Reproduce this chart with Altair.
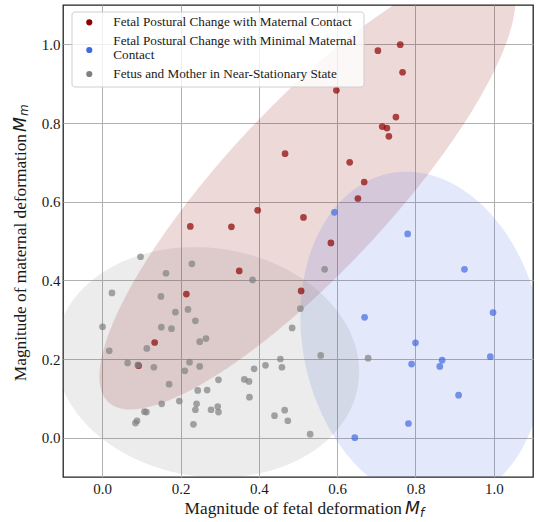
import numpy as np
import pandas as pd
import altair as alt

# ---------------- data ----------------
cats = [
    "Fetal Postural Change with Maternal Contact",
    "Fetal Postural Change with Minimal Maternal Contact",
    "Fetus and Mother in Near-Stationary State",
]
# how each legend label is wrapped in the reference
cat_lines = [
    ["Fetal Postural Change with Maternal Contact"],
    ["Fetal Postural Change with Minimal Maternal", "Contact"],
    ["Fetus and Mother in Near-Stationary State"],
]
colors = ["#8b0000", "#4169e1", "#808080"]

red_x = [0.761, 0.704, 0.767, 0.598, 0.750, 0.715, 0.727, 0.732, 0.467, 0.632, 0.669,
         0.653, 0.397, 0.225, 0.330, 0.514, 0.584, 0.350, 0.508, 0.215, 0.134, 0.093]
red_y = [0.999, 0.984, 0.929, 0.883, 0.815, 0.791, 0.787, 0.766, 0.722, 0.700, 0.650,
         0.608, 0.578, 0.537, 0.536, 0.560, 0.495, 0.424, 0.373, 0.365, 0.242, 0.183]

blue_x = [0.593, 0.780, 0.925, 0.998, 0.670, 0.800, 0.868, 0.862, 0.790, 0.991, 0.910, 0.782, 0.645]
blue_y = [0.573, 0.518, 0.428, 0.318, 0.306, 0.241, 0.197, 0.181, 0.187, 0.206, 0.108, 0.036, 0.000]

gray_x = [0.098, 0.229, 0.163, 0.384, 0.025, 0.150, 0.219, 0.187, 0.238, 0.151, 0.177,
          0.001, 0.265, 0.249, 0.114, 0.018, 0.065, 0.091, 0.132, 0.223, 0.211, 0.249,
          0.171, 0.297, 0.244, 0.268, 0.363, 0.375, 0.388, 0.417, 0.455, 0.459, 0.376,
          0.152, 0.197, 0.241, 0.238, 0.278, 0.295, 0.297, 0.113, 0.108, 0.089, 0.085,
          0.233, 0.440, 0.466, 0.474, 0.531, 0.485, 0.506, 0.558, 0.568, 0.679]
gray_y = [0.460, 0.442, 0.418, 0.401, 0.368, 0.359, 0.326, 0.319, 0.297, 0.281, 0.277,
          0.282, 0.252, 0.244, 0.227, 0.221, 0.190, 0.185, 0.179, 0.192, 0.170, 0.181,
          0.136, 0.147, 0.120, 0.121, 0.148, 0.143, 0.175, 0.184, 0.200, 0.179, 0.103,
          0.086, 0.093, 0.086, 0.071, 0.071, 0.079, 0.065, 0.065, 0.066, 0.043, 0.037,
          0.034, 0.056, 0.070, 0.043, 0.009, 0.279, 0.328, 0.209, 0.428, 0.202]

tick_values = [0.0, 0.2, 0.4, 0.6, 0.8, 1.0]
axis_domain = [-0.1, 1.1]
N_STD = float(np.sqrt(5.991))  # 95% confidence ellipse

SERIF = "Liberation Serif"
MATH = "DejaVu Sans"
INK = "#1a1a1a"

groups = [(red_x, red_y), (blue_x, blue_y), (gray_x, gray_y)]

# ---------------- tables ----------------
pts = pd.concat(
    [pd.DataFrame({"x": gx, "y": gy, "group": c}) for (gx, gy), c in zip(groups, cats)],
    ignore_index=True,
)


def ellipse_table(xs, ys, n_std, n=240):
    x = np.asarray(xs)
    y = np.asarray(ys)
    cx, cy = x.mean(), y.mean()
    cov = np.cov(x, y) * n_std ** 2
    m = np.linalg.inv(cov)
    a, b, c = m[0, 0], m[0, 1], m[1, 1]
    w = np.sqrt(cov[0, 0])
    t = np.linspace(np.pi, 0, n)
    dx = w * np.cos(t)
    disc = np.clip(b * b * dx * dx - c * (a * dx * dx - 1.0), 0, None)
    up = cy + (-b * dx + np.sqrt(disc)) / c
    lo = cy + (-b * dx - np.sqrt(disc)) / c
    return pd.DataFrame({"x": cx + dx, "y": up, "y2": lo})


xscale = alt.Scale(domain=axis_domain, nice=False, zero=False)
yscale = alt.Scale(domain=axis_domain, nice=False, zero=False)

xaxis = alt.Axis(values=tick_values, format=".1f", title=None, tickSize=0, domain=False,
                 labelFont=SERIF, labelFontSize=15, labelColor=INK,
                 labelPadding=4, gridColor="#b0b0b0", gridWidth=1)
yaxis = alt.Axis(values=tick_values, format=".1f", title=None, tickSize=0, domain=False,
                 labelFont=SERIF, labelFontSize=15, labelColor=INK,
                 labelPadding=3, gridColor="#b0b0b0", gridWidth=1)

layers = []
for (gx, gy), col in zip(groups, colors):
    layers.append(
        alt.Chart(ellipse_table(gx, gy, N_STD))
        .mark_area(fill=col, fillOpacity=0.15, clip=True, strokeWidth=0)
        .encode(
            x=alt.X("x:Q", scale=xscale, axis=xaxis),
            y=alt.Y("y:Q", scale=yscale, axis=yaxis),
            y2="y2:Q",
        )
    )

points = (
    alt.Chart(pts)
    .mark_circle(size=45, opacity=0.7)
    .encode(
        x=alt.X("x:Q", scale=xscale, axis=xaxis),
        y=alt.Y("y:Q", scale=yscale, axis=yaxis),
        color=alt.Color("group:N", scale=alt.Scale(domain=cats, range=colors), legend=None),
    )
)

# ---------------- legend box (upper left, inside the plot) ----------------
one = pd.DataFrame({"k": [0]})
legend_box = alt.Chart(one).mark_rect(
    fill="white", fillOpacity=0.8, stroke="#cfcfcf", strokeWidth=1, cornerRadius=3
).encode(x=alt.value(9), x2=alt.value(301), y=alt.value(7), y2=alt.value(82))

legend_layers = [legend_box]
sym_y = [17.3, 45, 69]
line_y = [[16.7], [35.7, 50.2], [69]]
for col, sy, lines, ys in zip(colors, sym_y, cat_lines, line_y):
    legend_layers.append(
        alt.Chart(one).mark_circle(size=38, opacity=1, color=col)
        .encode(x=alt.value(26.3), y=alt.value(sy))
    )
    for txt, ly in zip(lines, ys):
        legend_layers.append(
            alt.Chart(pd.DataFrame({"t": [txt]})).mark_text(
                font=SERIF, fontSize=13.2, align="left", baseline="middle", color=INK
            ).encode(text="t:N", x=alt.value(50.3), y=alt.value(ly))
        )

# ---------------- axis titles (serif text + italic math) ----------------
TS = 17.3
xt1 = alt.Chart(pd.DataFrame({"t": ["Magnitude of fetal deformation"]})).mark_text(
    font=SERIF, fontSize=TS, align="right", baseline="alphabetic", color=INK
).encode(text="t:N", x=alt.value(339), y=alt.value(509))
xt2 = alt.Chart(pd.DataFrame({"t": ["M"]})).mark_text(
    font=MATH, fontStyle="italic", fontSize=TS, align="left", baseline="alphabetic", color=INK
).encode(text="t:N", x=alt.value(342), y=alt.value(509))
xt3 = alt.Chart(pd.DataFrame({"t": ["f"]})).mark_text(
    font=MATH, fontStyle="italic", fontSize=12, align="left", baseline="alphabetic", color=INK
).encode(text="t:N", x=alt.value(357), y=alt.value(512))

yt1 = alt.Chart(pd.DataFrame({"t": ["Magnitude of maternal deformation"]})).mark_text(
    font=SERIF, fontSize=TS, align="right", baseline="alphabetic", angle=270, color=INK
).encode(text="t:N", x=alt.value(-37), y=alt.value(129))
yt2 = alt.Chart(pd.DataFrame({"t": ["M"]})).mark_text(
    font=MATH, fontStyle="italic", fontSize=TS, align="left", baseline="alphabetic", angle=270, color=INK
).encode(text="t:N", x=alt.value(-37), y=alt.value(127))
yt3 = alt.Chart(pd.DataFrame({"t": ["m"]})).mark_text(
    font=MATH, fontStyle="italic", fontSize=12, align="left", baseline="alphabetic", angle=270, color=INK
).encode(text="t:N", x=alt.value(-35), y=alt.value(111))

chart = (
    alt.layer(*layers, points, *legend_layers, xt1, xt2, xt3, yt1, yt2, yt3)
    .properties(
        width=470, height=472,
        autosize=alt.AutoSizeParams(type="none"),
        padding={"left": 63, "top": 5, "right": 7, "bottom": 45},
        background="white",
    )
    .configure_view(stroke="#222", strokeWidth=1.3)
)

chart.save("out.html", embed_options={"renderer": "svg", "actions": False})
